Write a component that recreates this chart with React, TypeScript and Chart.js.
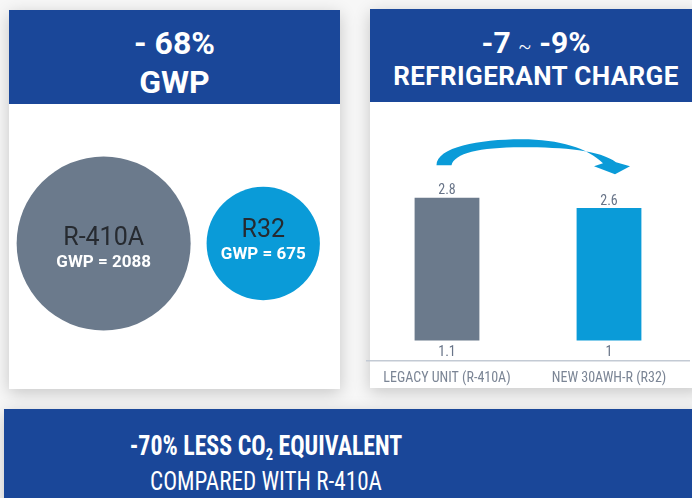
import React, { useEffect, useRef } from "react";
import { Chart, registerables } from "chart.js";

Chart.register(...registerables);

// ---- data ----
const refrigerants = ["R-410A", "R32"];
const gwpValues = [2088, 675];

const units = ["LEGACY UNIT (R-410A)", "NEW 30AWH-R (R32)"];
const chargeValues = [2.8, 2.6];
const lowerValues = [1.1, 1];

// ---- styles ----
const BLUE = "#1a4799";
const GREY = "#6b7a8c";
const CYAN = "#0a9bd8";
const SANS = "Roboto, 'Liberation Sans', sans-serif";
const NARROW = "'Liberation Sans Narrow', 'Roboto Condensed', 'DejaVu Sans Condensed', Roboto, sans-serif";

const bubbleLabels = {
  id: "bubbleLabels",
  afterDatasetsDraw(chart: any) {
    const ctx = chart.ctx;
    const meta = chart.getDatasetMeta(0);
    meta.data.forEach((el: any, i: number) => {
      const r = el.options.radius;
      const off = (r - 72) * 0.27;
      ctx.save();
      ctx.textAlign = "center";
      ctx.textBaseline = "middle";
      ctx.fillStyle = "#262a30";
      ctx.font = `400 25px ${SANS}`;
      ctx.fillText(refrigerants[i], el.x, el.y - 9 + off);
      ctx.fillStyle = "#ffffff";
      ctx.font = `700 17px ${SANS}`;
      ctx.fillText(`GWP = ${gwpValues[i]}`, el.x, el.y + 15 + off);
      ctx.restore();
    });
  },
};

const barLabels = {
  id: "barLabels",
  afterDatasetsDraw(chart: any) {
    const ctx = chart.ctx;
    const meta = chart.getDatasetMeta(0);
    ctx.save();
    ctx.font = `400 14px ${NARROW}`;
    ctx.fillStyle = "#687488";
    ctx.textAlign = "center";
    meta.data.forEach((bar: any, i: number) => {
      ctx.textBaseline = "bottom";
      ctx.fillText(String(chargeValues[i]), bar.x, bar.y);
      ctx.textBaseline = "top";
      ctx.fillText(String(lowerValues[i]), bar.x, bar.base + 5);
    });
    ctx.restore();
  },
};

const arrowPlugin = {
  id: "arrow",
  afterDatasetsDraw(chart: any) {
    const ctx = chart.ctx;
    const xs = chart.scales.x;
    const ys = chart.scales.y;
    const L = xs.getPixelForValue(0);
    const R = xs.getPixelForValue(1);
    const t = ys.getPixelForValue(3.95);
    const mid = L + 74.5;
    ctx.save();
    ctx.fillStyle = CYAN;
    ctx.beginPath();
    ctx.moveTo(L - 10.5, t + 26);
    ctx.bezierCurveTo(L - 10.5, t + 8, L + 32, t, mid, t);
    ctx.bezierCurveTo(R - 49, t, R - 21, t + 9, R - 6, t + 24);
    ctx.lineTo(R - 15, t + 27);
    ctx.lineTo(R + 6, t + 35);
    ctx.lineTo(R + 21, t + 27);
    ctx.lineTo(R + 7, t + 23);
    ctx.bezierCurveTo(R - 9, t + 11, R - 44, t + 8, mid, t + 8);
    ctx.bezierCurveTo(L + 32, t + 8, L + 7.5, t + 14, L + 4.5, t + 26);
    ctx.closePath();
    ctx.fill();
    ctx.restore();
  },
};

function Line(props: { cy: number; size: number; weight: number; family: string; children: any; width?: number; left?: number; spacing?: number; sx?: number }) {
  const lh = 40;
  return (
    <div
      style={{
        position: "absolute",
        left: props.left ?? 0,
        width: props.width ?? "100%",
        top: props.cy - lh / 2,
        height: lh,
        lineHeight: lh + "px",
        textAlign: "center",
        color: "#fff",
        fontFamily: props.family,
        fontWeight: props.weight,
        fontSize: props.size,
        letterSpacing: props.spacing ?? 0,
        whiteSpace: "nowrap",
        transform: props.sx ? `scaleX(${props.sx})` : undefined,
      }}
    >
      {props.children}
    </div>
  );
}

export default function App() {
  const bubbleRef = useRef<HTMLCanvasElement>(null);
  const barRef = useRef<HTMLCanvasElement>(null);

  useEffect(() => {
    const bubble = new Chart(bubbleRef.current!, {
      type: "bubble",
      data: {
        datasets: [
          {
            data: gwpValues.map((v, i) => ({ x: i, y: 0, v })) as any,
            backgroundColor: [GREY, CYAN],
            borderWidth: 0,
            radius: (c: any) => 87 * Math.pow(c.raw.v / gwpValues[0], 0.38),
          } as any,
        ],
      },
      options: {
        animation: false,
        responsive: false,
        events: [],
        clip: false as any,
        layout: { autoPadding: false, padding: { bottom: 6 } } as any,
        plugins: { legend: { display: false }, tooltip: { enabled: false } },
        scales: {
          x: { type: "linear", display: false, min: -0.593, max: 1.481 },
          y: { display: false, min: -1, max: 1 },
        },
      },
      plugins: [bubbleLabels],
    });

    const bar = new Chart(barRef.current!, {
      type: "bar",
      data: {
        labels: units,
        datasets: [
          {
            data: chargeValues,
            backgroundColor: [GREY, CYAN],
            barPercentage: 0.5,
            categoryPercentage: 0.8,
          },
        ],
      },
      options: {
        animation: false,
        responsive: false,
        events: [],
        layout: { padding: { top: 28, left: 0, right: 0, bottom: 0 } },
        plugins: { legend: { display: false }, tooltip: { enabled: false } },
        scales: {
          x: {
            grid: { display: false, drawTicks: false },
            border: { display: true, color: "#c3cad4", width: 1.5 },
            ticks: { color: "#7b8595", font: { family: NARROW, size: 14 }, padding: 10 },
            afterFit: (s: any) => {
              s.height = 27.5;
            },
          },
          y: { display: false, min: -0.39, max: 4.13 },
        },
      },
      plugins: [arrowPlugin, barLabels],
    });

    return () => {
      bubble.destroy();
      bar.destroy();
    };
  }, []);

  const shadow = "0 4px 16px rgba(0,0,0,0.2)";

  return (
    <div style={{ position: "fixed", left: 0, top: 0, width: 692, height: 498, overflow: "hidden", background: "#f7f7f7" }}>
      {/* left card */}
      <div style={{ position: "absolute", left: 9, top: 10, width: 331, height: 379, background: "#fff", boxShadow: shadow }}>
        <div style={{ position: "absolute", left: 0, top: 0, width: 331, height: 94, background: BLUE }}>
          <Line cy={32.5} size={32} weight={700} family={SANS}>- 68%</Line>
          <Line cy={71.7} size={32} weight={700} family={SANS}>GWP</Line>
        </div>
        <canvas ref={bubbleRef} width={331} height={285} style={{ position: "absolute", left: 0, top: 94, display: "block" }} />
      </div>

      {/* right card */}
      <div style={{ position: "absolute", left: 370, top: 9, width: 332, height: 379, background: "#fff", boxShadow: shadow }}>
        <div style={{ position: "absolute", left: 0, top: 0, width: 332, height: 93, background: BLUE }}>
          <Line cy={34.3} size={30} weight={700} family={SANS}>
            -7 <span style={{ fontWeight: 300, fontSize: 20 }}>~</span> -9%
          </Line>
          <Line cy={67} size={26} weight={700} family={SANS} spacing={0.4}>REFRIGERANT CHARGE</Line>
        </div>
      </div>
      <canvas ref={barRef} width={324} height={286} style={{ position: "absolute", left: 366, top: 102, display: "block" }} />

      {/* bottom banner */}
      <div style={{ position: "absolute", left: 4, top: 409, width: 700, height: 100, background: BLUE, boxShadow: shadow }}>
        <Line cy={36.5} size={27} weight={700} family={NARROW} left={0} width={524} sx={0.885}>
          -70% LESS CO<sub style={{ fontSize: "0.6em", verticalAlign: "-0.3em", lineHeight: 0 }}>2</sub> EQUIVALENT
        </Line>
        <Line cy={72} size={26} weight={400} family={NARROW} left={0} width={524} sx={0.89}>
          COMPARED WITH R-410A
        </Line>
      </div>
    </div>
  );
}
